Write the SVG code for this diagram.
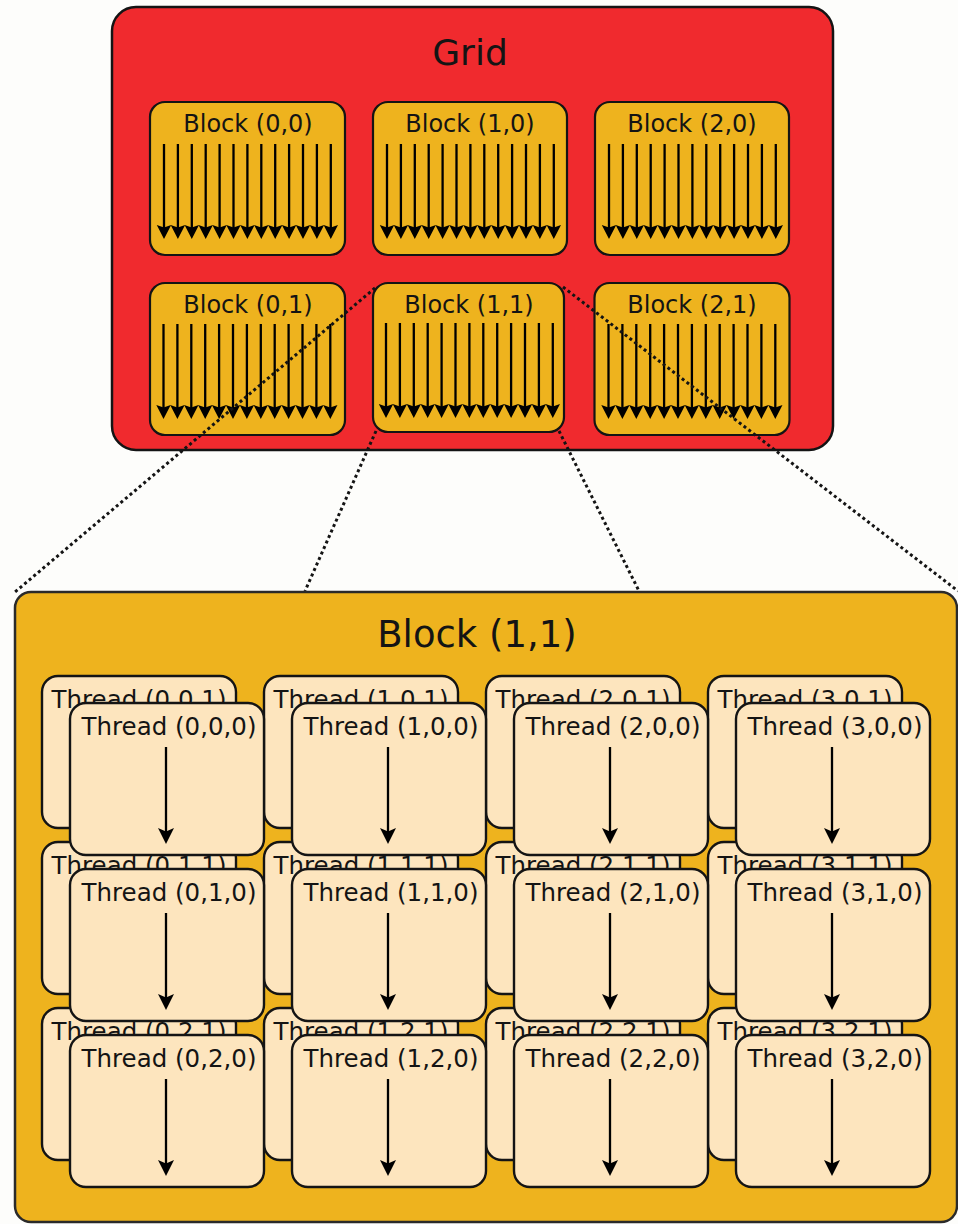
<svg xmlns="http://www.w3.org/2000/svg" xmlns:xlink="http://www.w3.org/1999/xlink" width="958" height="1224" viewBox="0 0 958 1224">
<style>
  text { font-family: "DejaVu Sans", "Liberation Sans", sans-serif; fill: #141414; text-anchor: middle; }
  .grid { fill: #f02a2e; stroke: #141414; stroke-width: 2.5; }
  .blk { fill: #eeb31e; stroke: #141414; stroke-width: 2.2; }
  .big { fill: #eeb31e; stroke: #2a2a2a; stroke-width: 2.5; }
  .thr { fill: #fde5be; stroke: #141414; stroke-width: 2.4; }
  .lbl { font-size: 24px; }
  .tlbl { font-size: 24.5px; }
  .ln { stroke: #000; stroke-width: 2.3; fill: none; }
  .head { fill: #000; stroke: none; }
  .dot { stroke: #141414; stroke-width: 3; fill: none; stroke-dasharray: 3 3; }
</style>
<defs>
  <g id="a1">
    <line class="ln" x1="0" y1="0" x2="0" y2="86"/>
    <path class="head" d="M0,95 l-7.2,-14 l7.2,2.5 l7.2,-2.5 z"/>
  </g>
  <g id="arrows13">
    <use xlink:href="#a1" x="0"/>
    <use xlink:href="#a1" x="13.9"/>
    <use xlink:href="#a1" x="27.8"/>
    <use xlink:href="#a1" x="41.7"/>
    <use xlink:href="#a1" x="55.6"/>
    <use xlink:href="#a1" x="69.5"/>
    <use xlink:href="#a1" x="83.4"/>
    <use xlink:href="#a1" x="97.3"/>
    <use xlink:href="#a1" x="111.2"/>
    <use xlink:href="#a1" x="125.1"/>
    <use xlink:href="#a1" x="139"/>
    <use xlink:href="#a1" x="152.9"/>
    <use xlink:href="#a1" x="166.8"/>
  </g>
  <g id="tarrow">
    <line class="ln" x1="0" y1="0" x2="0" y2="86"/>
    <path class="head" d="M0,97 l-8,-16 l8,3.5 l8,-3.5 z"/>
  </g>
</defs>

<rect x="0" y="0" width="958" height="1224" fill="#fdfdfb"/>

<g id="grid">
  <rect class="grid" x="112" y="7" width="721" height="443" rx="24" ry="24"/>
  <text x="470" y="65" style="font-size:36px">Grid</text>
</g>

<g id="block-0-0">
  <rect class="blk" x="150" y="102" width="195" height="153" rx="15" ry="15"/>
  <text class="lbl" x="248" y="132">Block (0,0)</text>
  <use xlink:href="#arrows13" x="164" y="144"/>
</g>
<g id="block-1-0">
  <rect class="blk" x="373" y="102" width="194" height="153" rx="15" ry="15"/>
  <text class="lbl" x="470" y="132">Block (1,0)</text>
  <use xlink:href="#arrows13" x="387" y="144"/>
</g>
<g id="block-2-0">
  <rect class="blk" x="595" y="102" width="194" height="153" rx="15" ry="15"/>
  <text class="lbl" x="692" y="132">Block (2,0)</text>
  <use xlink:href="#arrows13" x="609" y="144"/>
</g>
<g id="block-0-1">
  <rect class="blk" x="150" y="283" width="195" height="152" rx="15" ry="15"/>
  <text class="lbl" x="248" y="313">Block (0,1)</text>
  <use xlink:href="#arrows13" x="163.5" y="324"/>
</g>
<g id="block-1-1">
  <rect class="blk" x="373" y="283" width="191" height="149" rx="15" ry="15"/>
  <text class="lbl" x="469" y="313">Block (1,1)</text>
  <use xlink:href="#arrows13" x="386" y="323"/>
</g>
<g id="block-2-1">
  <rect class="blk" x="594.5" y="283" width="195" height="152" rx="15" ry="15"/>
  <text class="lbl" x="692" y="313">Block (2,1)</text>
  <use xlink:href="#arrows13" x="608.5" y="324"/>
</g>

<g id="connectors">
  <line class="dot" x1="375" y1="288" x2="15" y2="592"/>
  <line class="dot" x1="376" y1="431" x2="305" y2="591"/>
  <line class="dot" x1="559" y1="431" x2="639" y2="591"/>
  <line class="dot" x1="563" y1="287" x2="958" y2="591"/>
</g>

<g id="block-1-1-detail">
  <rect class="big" x="15" y="592" width="942" height="630" rx="16" ry="16"/>
  <text x="477" y="647" style="font-size:37px">Block (1,1)</text>
</g>

<!-- back threads (z = 1) -->
<g id="thread-0-0-1"><rect class="thr" x="42" y="676" width="194" height="152" rx="16"/><text class="tlbl" x="139" y="708">Thread (0,0,1)</text></g>
<g id="thread-1-0-1"><rect class="thr" x="264" y="676" width="194" height="152" rx="16"/><text class="tlbl" x="361" y="708">Thread (1,0,1)</text></g>
<g id="thread-2-0-1"><rect class="thr" x="486" y="676" width="194" height="152" rx="16"/><text class="tlbl" x="583" y="708">Thread (2,0,1)</text></g>
<g id="thread-3-0-1"><rect class="thr" x="708" y="676" width="194" height="152" rx="16"/><text class="tlbl" x="805" y="708">Thread (3,0,1)</text></g>

<g id="thread-0-1-1"><rect class="thr" x="42" y="842" width="194" height="152" rx="16"/><text class="tlbl" x="139" y="874">Thread (0,1,1)</text></g>
<g id="thread-1-1-1"><rect class="thr" x="264" y="842" width="194" height="152" rx="16"/><text class="tlbl" x="361" y="874">Thread (1,1,1)</text></g>
<g id="thread-2-1-1"><rect class="thr" x="486" y="842" width="194" height="152" rx="16"/><text class="tlbl" x="583" y="874">Thread (2,1,1)</text></g>
<g id="thread-3-1-1"><rect class="thr" x="708" y="842" width="194" height="152" rx="16"/><text class="tlbl" x="805" y="874">Thread (3,1,1)</text></g>

<g id="thread-0-2-1"><rect class="thr" x="42" y="1008" width="194" height="152" rx="16"/><text class="tlbl" x="139" y="1040">Thread (0,2,1)</text></g>
<g id="thread-1-2-1"><rect class="thr" x="264" y="1008" width="194" height="152" rx="16"/><text class="tlbl" x="361" y="1040">Thread (1,2,1)</text></g>
<g id="thread-2-2-1"><rect class="thr" x="486" y="1008" width="194" height="152" rx="16"/><text class="tlbl" x="583" y="1040">Thread (2,2,1)</text></g>
<g id="thread-3-2-1"><rect class="thr" x="708" y="1008" width="194" height="152" rx="16"/><text class="tlbl" x="805" y="1040">Thread (3,2,1)</text></g>

<!-- front threads (z = 0) -->
<g id="thread-0-0-0"><rect class="thr" x="70" y="703" width="194" height="152" rx="16"/><text class="tlbl" x="169" y="735">Thread (0,0,0)</text><use xlink:href="#tarrow" x="166" y="747"/></g>
<g id="thread-1-0-0"><rect class="thr" x="292" y="703" width="194" height="152" rx="16"/><text class="tlbl" x="391" y="735">Thread (1,0,0)</text><use xlink:href="#tarrow" x="388" y="747"/></g>
<g id="thread-2-0-0"><rect class="thr" x="514" y="703" width="194" height="152" rx="16"/><text class="tlbl" x="613" y="735">Thread (2,0,0)</text><use xlink:href="#tarrow" x="610" y="747"/></g>
<g id="thread-3-0-0"><rect class="thr" x="736" y="703" width="194" height="152" rx="16"/><text class="tlbl" x="835" y="735">Thread (3,0,0)</text><use xlink:href="#tarrow" x="832" y="747"/></g>

<g id="thread-0-1-0"><rect class="thr" x="70" y="869" width="194" height="152" rx="16"/><text class="tlbl" x="169" y="901">Thread (0,1,0)</text><use xlink:href="#tarrow" x="166" y="913"/></g>
<g id="thread-1-1-0"><rect class="thr" x="292" y="869" width="194" height="152" rx="16"/><text class="tlbl" x="391" y="901">Thread (1,1,0)</text><use xlink:href="#tarrow" x="388" y="913"/></g>
<g id="thread-2-1-0"><rect class="thr" x="514" y="869" width="194" height="152" rx="16"/><text class="tlbl" x="613" y="901">Thread (2,1,0)</text><use xlink:href="#tarrow" x="610" y="913"/></g>
<g id="thread-3-1-0"><rect class="thr" x="736" y="869" width="194" height="152" rx="16"/><text class="tlbl" x="835" y="901">Thread (3,1,0)</text><use xlink:href="#tarrow" x="832" y="913"/></g>

<g id="thread-0-2-0"><rect class="thr" x="70" y="1035" width="194" height="152" rx="16"/><text class="tlbl" x="169" y="1067">Thread (0,2,0)</text><use xlink:href="#tarrow" x="166" y="1079"/></g>
<g id="thread-1-2-0"><rect class="thr" x="292" y="1035" width="194" height="152" rx="16"/><text class="tlbl" x="391" y="1067">Thread (1,2,0)</text><use xlink:href="#tarrow" x="388" y="1079"/></g>
<g id="thread-2-2-0"><rect class="thr" x="514" y="1035" width="194" height="152" rx="16"/><text class="tlbl" x="613" y="1067">Thread (2,2,0)</text><use xlink:href="#tarrow" x="610" y="1079"/></g>
<g id="thread-3-2-0"><rect class="thr" x="736" y="1035" width="194" height="152" rx="16"/><text class="tlbl" x="835" y="1067">Thread (3,2,0)</text><use xlink:href="#tarrow" x="832" y="1079"/></g>
</svg>
